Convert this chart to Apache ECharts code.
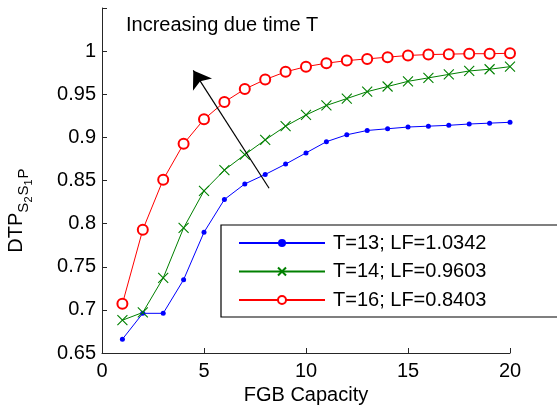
<!DOCTYPE html>
<html>
<head>
<meta charset="utf-8">
<script src="https://cdn.jsdelivr.net/npm/echarts@6/dist/echarts.min.js"></script>
<style>html,body{margin:0;padding:0;background:#fff}#c{width:557px;height:409px}</style>
</head>
<body>
<div id="c"></div>
<script>
var capacity = [1,2,3,4,5,6,7,8,9,10,11,12,13,14,15,16,17,18,19,20];
var dtpT13 = [0.666,0.696,0.696,0.735,0.790,0.828,0.846,0.857,0.869,0.882,0.895,0.903,0.908,0.910,0.912,0.913,0.914,0.9155,0.9165,0.9175];
var dtpT14 = [0.688,0.697,0.737,0.795,0.838,0.862,0.880,0.897,0.913,0.926,0.937,0.945,0.953,0.959,0.965,0.969,0.973,0.977,0.979,0.982];
var dtpT16 = [0.707,0.793,0.851,0.8925,0.921,0.941,0.956,0.967,0.976,0.982,0.986,0.989,0.991,0.993,0.995,0.996,0.9965,0.997,0.997,0.9975];
var seriesNames = ['T=13; LF=1.0342','T=14; LF=0.9603','T=16; LF=0.8403'];
var arrowFrom = [8.19, 0.841];
var arrowTo = [4.475, 0.9776];
var annotation = 'Increasing due time T';
var yTicksShown = [0.65,0.7,0.75,0.8,0.85,0.9,0.95,1];

function pairs(ys){ return capacity.map(function(x,i){ return [x, ys[i]]; }); }

var FONT = 'Liberation Sans, Arial, Helvetica, sans-serif';
var AX = '#262626';
var chart = echarts.init(document.getElementById('c'), null, {renderer:'canvas'});
chart.setOption({
  animation: false,
  backgroundColor: '#fff',
  textStyle: {fontFamily: FONT},
  title: {
    text: annotation, left: 121, top: 8,
    textStyle: {fontFamily: FONT, fontSize: 20, fontWeight: 'normal', color: '#000', lineHeight: 24}
  },
  grid: {left: 102, right: 47, top: 8, bottom: 56, containLabel: false, outerBoundsMode: 'none'},
  legend: {
    orient: 'vertical', left: 221, top: 225,
    data: seriesNames,
    itemWidth: 86, itemHeight: 10, itemGap: 8.5,
    padding: [8, 90, 7, 17],
    borderColor: '#000', borderWidth: 1.2, backgroundColor: '#fff',
    textStyle: {fontFamily: FONT, fontSize: 20, color: '#000', lineHeight: 20, padding: [0,0,0,3]},
    selectedMode: false
  },
  xAxis: {
    type: 'value', min: 0, max: 20, interval: 5,
    name: 'FGB Capacity', nameLocation: 'middle', nameGap: 30,
    nameTextStyle: {fontFamily: FONT, fontSize: 20, color: '#000'},
    axisLine: {lineStyle: {color: AX, width: 1}},
    axisTick: {inside: true, length: 5, lineStyle: {color: AX}},
    axisLabel: {fontFamily: FONT, fontSize: 20, color: '#000', margin: 8},
    splitLine: {show: false}
  },
  yAxis: {
    type: 'value', min: 0.65, max: 1.05, interval: 0.05,
    name: '{a|DTP}{b|S}{c|2}{b|S}{c|1}{d|P}',
    nameLocation: 'middle', nameRotate: 90, nameGap: 68,
    nameTextStyle: {
      fontFamily: FONT, color: '#000', padding: [0, 60, 0, 0],
      rich: {
        a: {fontSize: 20, fontFamily: FONT, verticalAlign: 'bottom', padding: [0,0,8,0], lineHeight: 22},
        b: {fontSize: 15, fontFamily: FONT, verticalAlign: 'bottom', padding: [0,0,3,0], lineHeight: 16},
        c: {fontSize: 11, fontFamily: FONT, verticalAlign: 'bottom', padding: [0,1,0,0], lineHeight: 12},
        d: {fontSize: 15, fontFamily: FONT, verticalAlign: 'bottom', padding: [0,0,3,0], lineHeight: 16}
      }
    },
    axisLine: {show: true, lineStyle: {color: AX, width: 1}},
    axisTick: {show: true, inside: true, length: 5, lineStyle: {color: AX}},
    axisLabel: {
      fontFamily: FONT, fontSize: 20, color: '#000', margin: 6,
      formatter: function(v){
        var r = Math.round(v*100)/100;
        for (var i=0;i<yTicksShown.length;i++){ if (Math.abs(yTicksShown[i]-r)<1e-6) return String(r); }
        return '';
      }
    },
    splitLine: {show: false}
  },
  series: [
    {
      name: seriesNames[0], type: 'line', data: pairs(dtpT13),
      symbol: 'circle', symbolSize: 5,
      lineStyle: {color: '#0000ff', width: 1},
      itemStyle: {color: '#0000ff'},
      emphasis: {disabled: true}, z: 3
    },
    {
      name: seriesNames[1], type: 'line', data: pairs(dtpT14),
      symbol: 'path://M0,0L10,10M10,0L0,10', symbolSize: 10, symbolKeepAspect: true,
      lineStyle: {color: '#008000', width: 1},
      itemStyle: {color: 'rgba(0,0,0,0)', borderColor: '#008000', borderWidth: 1.1},
      emphasis: {disabled: true}, z: 3
    },
    {
      name: seriesNames[2], type: 'line', data: pairs(dtpT16),
      symbol: 'emptyCircle', symbolSize: 10,
      lineStyle: {color: '#ff0000', width: 1},
      itemStyle: {color: '#ff0000', borderColor: '#ff0000', borderWidth: 1},
      emphasis: {disabled: true}, z: 3
    },
    {
      name: 'arrow', type: 'lines', coordinateSystem: 'cartesian2d',
      symbol: ['none', 'arrow'], symbolSize: [11, 17],
      lineStyle: {color: '#000', width: 1.2, opacity: 1},
      data: [{coords: [arrowFrom, arrowTo]}],
      silent: true, z: 4
    }
  ]
});
</script>
</body>
</html>
